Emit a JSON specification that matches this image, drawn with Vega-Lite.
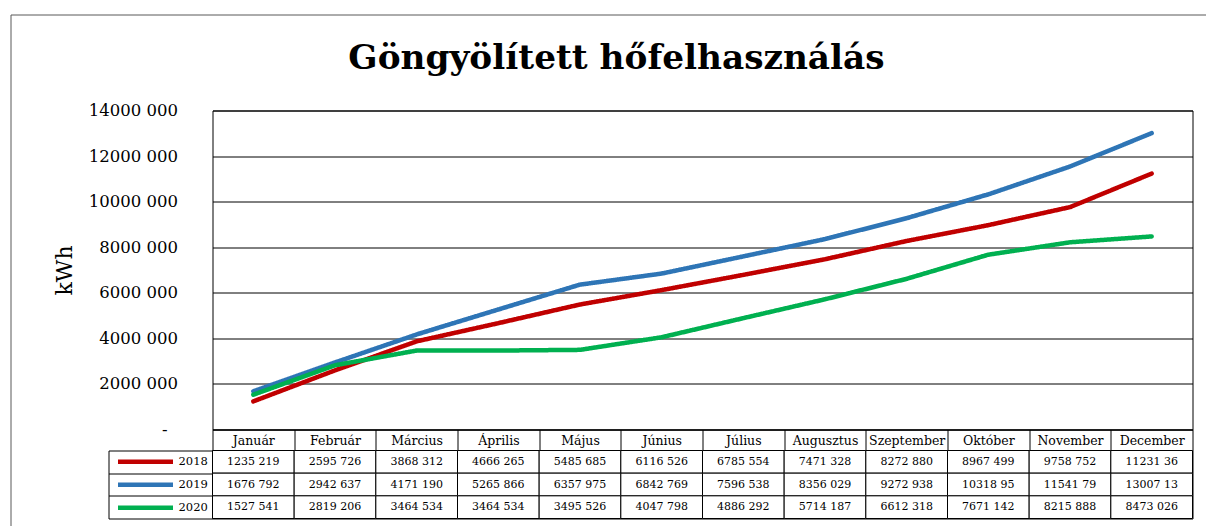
{
  "$schema": "https://vega.github.io/schema/vega-lite/v6.json",
  "padding": {"left": 9.5, "top": 13.5, "right": 0, "bottom": 0},
  "background": "white",
  "datasets": {
    "kwh": [
      {"month": "Január", "year": 2018, "value": 1235219},
      {"month": "Február", "year": 2018, "value": 2595726},
      {"month": "Március", "year": 2018, "value": 3868312},
      {"month": "Április", "year": 2018, "value": 4666265},
      {"month": "Május", "year": 2018, "value": 5485685},
      {"month": "Június", "year": 2018, "value": 6116526},
      {"month": "Július", "year": 2018, "value": 6785554},
      {"month": "Augusztus", "year": 2018, "value": 7471328},
      {"month": "Szeptember", "year": 2018, "value": 8272880},
      {"month": "Október", "year": 2018, "value": 8967499},
      {"month": "November", "year": 2018, "value": 9758752},
      {"month": "December", "year": 2018, "value": 11231360},
      {"month": "Január", "year": 2019, "value": 1676792},
      {"month": "Február", "year": 2019, "value": 2942637},
      {"month": "Március", "year": 2019, "value": 4171190},
      {"month": "Április", "year": 2019, "value": 5265866},
      {"month": "Május", "year": 2019, "value": 6357975},
      {"month": "Június", "year": 2019, "value": 6842769},
      {"month": "Július", "year": 2019, "value": 7596538},
      {"month": "Augusztus", "year": 2019, "value": 8356029},
      {"month": "Szeptember", "year": 2019, "value": 9272938},
      {"month": "Október", "year": 2019, "value": 10318950},
      {"month": "November", "year": 2019, "value": 11541790},
      {"month": "December", "year": 2019, "value": 13007130},
      {"month": "Január", "year": 2020, "value": 1527541},
      {"month": "Február", "year": 2020, "value": 2819206},
      {"month": "Március", "year": 2020, "value": 3464534},
      {"month": "Április", "year": 2020, "value": 3464534},
      {"month": "Május", "year": 2020, "value": 3495526},
      {"month": "Június", "year": 2020, "value": 4047798},
      {"month": "Július", "year": 2020, "value": 4886292},
      {"month": "Augusztus", "year": 2020, "value": 5714187},
      {"month": "Szeptember", "year": 2020, "value": 6612318},
      {"month": "Október", "year": 2020, "value": 7671142},
      {"month": "November", "year": 2020, "value": 8215888},
      {"month": "December", "year": 2020, "value": 8473026}
    ]
  },
  "bounds": "flush",
  "spacing": 21,
  "resolve": {"legend": {"color": "independent", "strokeDash": "independent"}},
  "vconcat": [
    {
      "width": 980,
      "height": 319,
      "data": {"name": "kwh"},
      "mark": {"type": "line", "strokeWidth": 4.5, "strokeCap": "round", "strokeJoin": "round"},
      "encoding": {
        "x": {
          "field": "month", "type": "nominal",
          "sort": ["Január", "Február", "Március", "Április", "Május", "Június", "Július", "Augusztus", "Szeptember", "Október", "November", "December"],
          "bandPosition": 0.5,
          "scale": {"type": "band", "paddingInner": 0, "paddingOuter": 0},
          "axis": {"title": null, "orient": "bottom", "labelAngle": 0, "domain": true, "domainColor": "black", "ticks": true, "tickBand": "extent", "tickSize": 21, "tickColor": "black", "labelBaseline": "middle", "labelPadding": -10.5, "labelFont": "DejaVu Serif", "labelFontSize": 12.5, "labelColor": "black", "grid": false}
        },
        "y": {
          "field": "value", "type": "quantitative",
          "scale": {"domain": [0, 14000000], "nice": false},
          "axis": {"title": "kWh", "titleFont": "DejaVu Serif", "titleFontSize": 22, "titleFontWeight": "normal", "titleColor": "black", "titlePadding": 12,
                   "values": [0, 2000000, 4000000, 6000000, 8000000, 10000000, 12000000, 14000000],
                   "labelExpr": "datum.value == 0 ? '-\u2007\u200b' : format(datum.value / 1000, 'd') + ' 000'",
                   "labelFont": "DejaVu Serif", "labelFontSize": 16.5, "labelColor": "black", "labelPadding": 35,
                   "ticks": false, "domain": false, "grid": true, "gridColor": "black", "gridWidth": 1}
        },
        "color": {
          "field": "year", "type": "nominal",
          "scale": {"domain": [2018, 2019, 2020], "range": ["#C00000", "#2E75B6", "#00B050"]},
          "legend": {"title": null, "orient": "none", "legendX": -97, "legendY": 340, "padding": 0, "symbolType": "stroke", "symbolSize": 3025, "symbolStrokeWidth": 4.5, "clipHeight": 22.67, "rowPadding": 0, "symbolOffset": 0, "labelOffset": 3, "labelFont": "DejaVu Serif", "labelFontSize": 11.5, "labelColor": "black"}
        },
        "strokeDash": {
          "datum": "keret", "type": "nominal",
          "scale": {"range": [[1, 0]]},
          "legend": {"title": ["", "Göngyölített hőfelhasználás"], "titleFont": "DejaVu Serif", "titleFontSize": 34.3, "titleFontWeight": "bold", "titleColor": "black", "titleAnchor": "middle", "titleLineHeight": 27, "titleBaseline": "top", "titlePadding": 5, "titleLimit": 2000,
                     "orient": "none", "legendX": -202, "legendY": -96, "padding": 0, "strokeColor": "#595959",
                     "symbolType": "stroke", "symbolSize": 1464100, "symbolOpacity": 0, "symbolStrokeColor": "transparent", "clipHeight": 465, "labelExpr": "''", "labelOffset": 0}
        }
      }
    },
    {
      "width": 980,
      "height": 68,
      "data": {"name": "kwh"},
      "transform": [
        {"calculate": "substring(format(floor(datum.value / 1000), 'd') + ' ' + format(datum.value % 1000, '03d'), 0, 8)", "as": "label"}
      ],
      "encoding": {
        "x": {
          "field": "month", "type": "nominal",
          "sort": ["Január", "Február", "Március", "Április", "Május", "Június", "Július", "Augusztus", "Szeptember", "Október", "November", "December"],
          "scale": {"type": "band", "paddingInner": 0, "paddingOuter": 0},
          "axis": null
        },
        "y": {
          "field": "year", "type": "nominal",
          "scale": {"type": "band", "paddingInner": 0, "paddingOuter": 0},
          "axis": {"title": null, "orient": "left", "offset": 104, "labels": false, "ticks": true, "tickBand": "extent", "tickSize": -104, "tickColor": "black", "domain": true, "domainColor": "black", "grid": false}
        }
      },
      "layer": [
        {"mark": {"type": "rect", "fill": "white", "stroke": "black", "strokeWidth": 1}},
        {"mark": {"type": "text", "font": "DejaVu Serif", "fontSize": 11, "color": "black"}, "encoding": {"text": {"field": "label", "type": "nominal"}}}
      ]
    }
  ],
  "config": {
    "view": {"stroke": "black", "strokeWidth": 1}
  }
}
